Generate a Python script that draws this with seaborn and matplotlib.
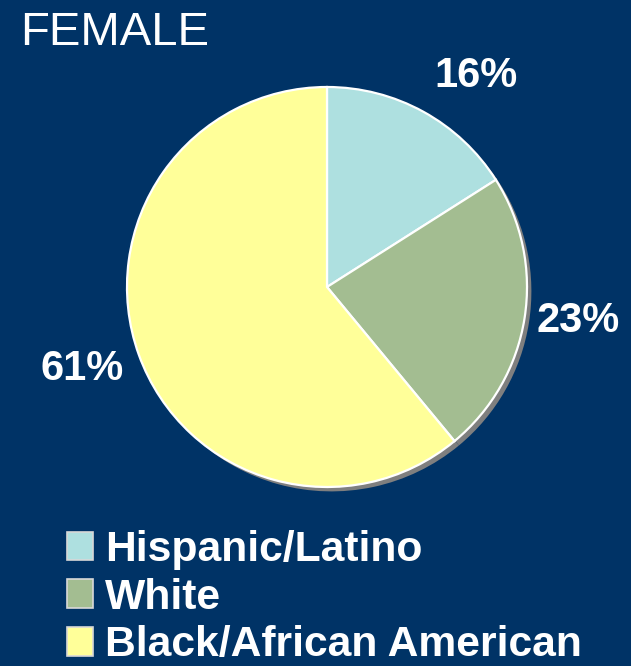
import matplotlib
matplotlib.use("Agg")
import matplotlib.pyplot as plt
import seaborn as sns

# Data
categories = ["Hispanic/Latino", "White", "Black/African American"]
shares = [16, 23, 61]
slice_colors = ["#AEE0E0", "#A3BD91", "#FFFF99"]
title = "FEMALE"

# Label anchor positions (pie data units, radius = 1)
label_xy = [(0.745, 1.055), (1.255, -0.17), (-1.225, -0.41)]

BG = "#003366"

sns.set_theme(style="white")
plt.rcParams["font.family"] = ["Liberation Sans", "DejaVu Sans"]

W, H, DPI = 631, 666, 100
fig = plt.figure(figsize=(W / DPI, H / DPI), dpi=DPI, facecolor=BG)

# pie centre (327, 287) px from top-left, radius 200 px
cx, cy, r = 327, 287, 200
ax = fig.add_axes([(cx - r) / W, (H - cy - r) / H, 2 * r / W, 2 * r / H])
ax.set_facecolor(BG)
ax.set_axis_off()

# drop shadow behind the pie
off = 0.022
ax.pie(shares, radius=1.0, center=(off, -off), startangle=90, counterclock=False,
       colors=["#7F7F7F"] * len(shares), wedgeprops=dict(linewidth=0))

wedges, _ = ax.pie(shares, radius=1.0, startangle=90, counterclock=False,
                   colors=slice_colors,
                   wedgeprops=dict(edgecolor="white", linewidth=1.6))

for (x, y), v in zip(label_xy, shares):
    ax.text(x, y, f"{v}%", ha="center", va="center", color="white",
            fontsize=30, fontweight="bold")

ax.set_xlim(-1, 1)
ax.set_ylim(-1, 1)
ax.set_aspect("equal")

fig.text(20 / W, 1 - 45 / H, title, ha="left", va="baseline", color="white",
         fontsize=34)

leg = fig.legend(wedges, categories, loc="upper left",
                 bbox_to_anchor=(67 / W, 1 - 530 / H), frameon=False,
                 fontsize=30.7, handlelength=0.61, handleheight=0.65,
                 handletextpad=0.28, labelspacing=0.18, borderaxespad=0,
                 borderpad=0)
for t in leg.get_texts():
    t.set_color("white")
    t.set_fontweight("bold")
for h in leg.legend_handles:
    h.set_edgecolor("#D8D8D8")
    h.set_linewidth(1.2)

fig.savefig("out.png", dpi=DPI, facecolor=BG)
